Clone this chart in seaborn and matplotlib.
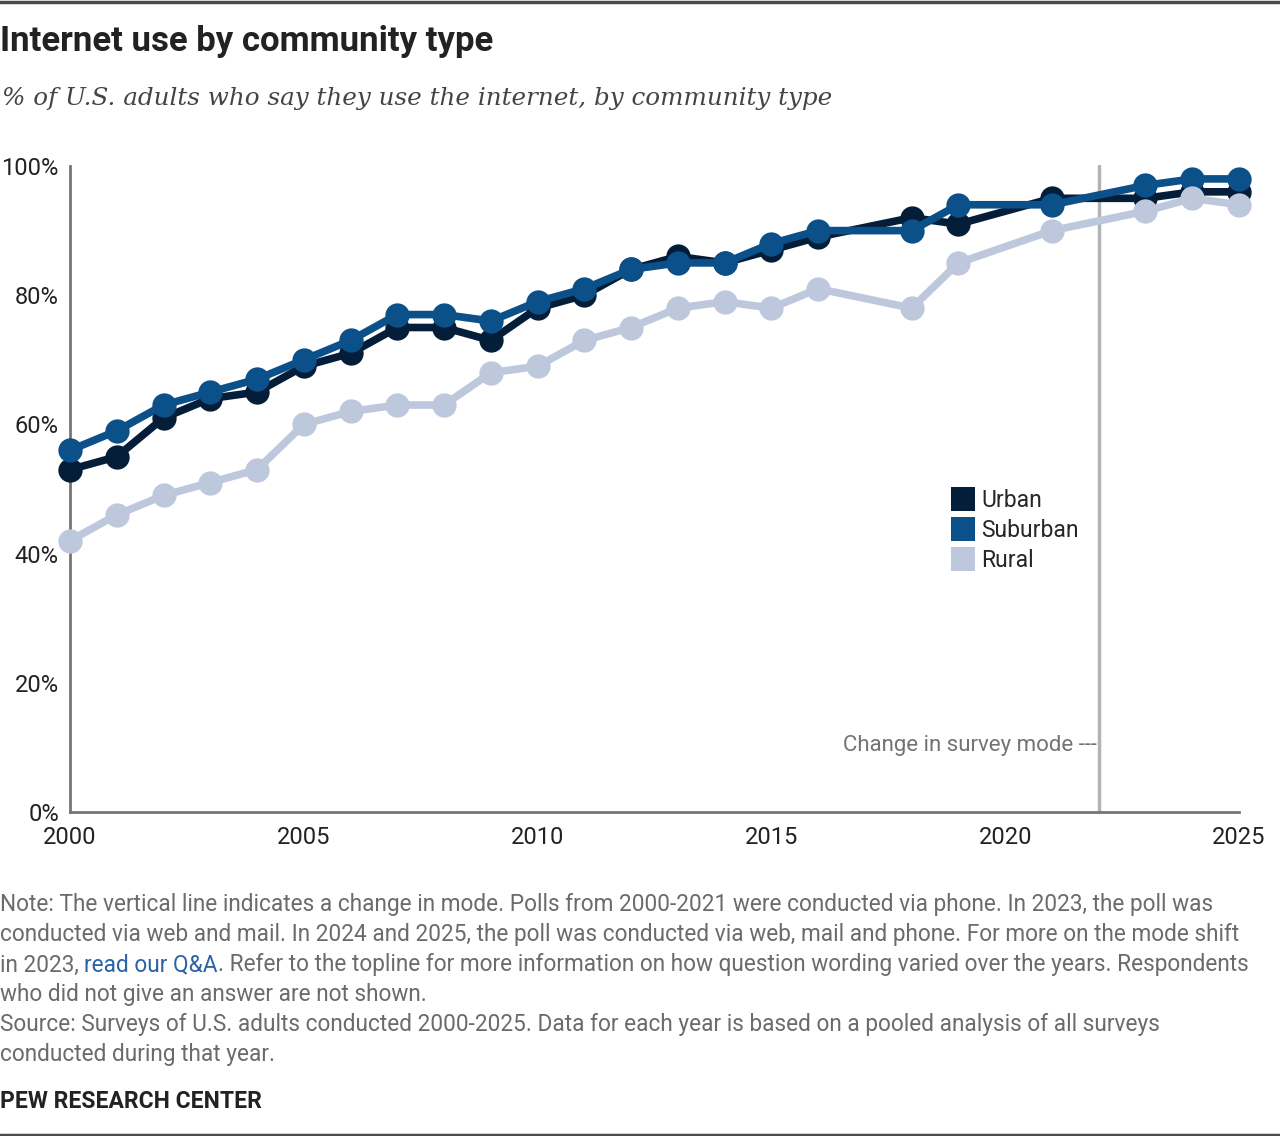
import pandas as pd
import matplotlib
matplotlib.use("Agg")
import matplotlib.pyplot as plt
from matplotlib.lines import Line2D
import seaborn as sns

years = [2000, 2001, 2002, 2003, 2004, 2005, 2006, 2007, 2008, 2009, 2010, 2011,
         2012, 2013, 2014, 2015, 2016, 2018, 2019, 2021, 2023, 2024, 2025]
urban = [53, 55, 61, 64, 65, 69, 71, 75, 75, 73, 78, 80,
         84, 86, 85, 87, 89, 92, 91, 95, 95, 96, 96]
suburban = [56, 59, 63, 65, 67, 70, 73, 77, 77, 76, 79, 81,
            84, 85, 85, 88, 90, 90, 94, 94, 97, 98, 98]
rural = [42, 46, 49, 51, 53, 60, 62, 63, 63, 68, 69, 73,
         75, 78, 79, 78, 81, 78, 85, 90, 93, 95, 94]
groups = ["Urban", "Suburban", "Rural"]
colors = ["#041e3a", "#0b5088", "#bec8dc"]
y_ticks = [0, 20, 40, 60, 80, 100]
x_ticks = [2000, 2005, 2010, 2015, 2020, 2025]
mode_change_year = 2022

df = pd.DataFrame({
    "year": years * 3,
    "pct": urban + suburban + rural,
    "group": ["Urban"] * len(years) + ["Suburban"] * len(years) + ["Rural"] * len(years),
})

sns.set_style("white")
plt.rcParams["font.family"] = ["Roboto", "DejaVu Sans"]

W, H = 1280, 1136
fig = plt.figure(figsize=(W / 100, H / 100), dpi=100)
ax = fig.add_axes([70 / W, 1 - 812 / H, (1239 - 70) / W, (812 - 166) / H])

axis_gray = "#757575"
ax.axvline(mode_change_year, color="#b3b3b3", lw=2.5, zorder=1)
ax.text(mode_change_year - 0.05, 10.3, "Change in survey mode ---", ha="right", va="center",
        fontsize=16, color="#737373")

sns.lineplot(data=df, x="year", y="pct", hue="group", hue_order=groups,
             palette=dict(zip(groups, colors)), marker="o", markersize=17.5,
             markeredgewidth=0, linewidth=5.5, legend=False, ax=ax, zorder=3)
for ln in ax.lines:
    ln.set_clip_on(False)

ax.set_xlim(2000, 2025)
ax.set_ylim(0, 100)
ax.set_xticks(x_ticks)
ax.set_yticks(y_ticks)
ax.set_yticklabels([f"{v}%" for v in y_ticks])
ax.set_xlabel("")
ax.set_ylabel("")
for s in ["top", "right"]:
    ax.spines[s].set_visible(False)
for s in ["left", "bottom"]:
    ax.spines[s].set_color(axis_gray)
    ax.spines[s].set_linewidth(2)
ax.tick_params(axis="both", length=7, width=2, color=axis_gray, labelsize=17,
               labelcolor="#222222", direction="out")
ax.tick_params(axis="x", pad=3)
ax.tick_params(axis="y", pad=1)

handles = [Line2D([], [], marker="s", linestyle="none", markersize=17,
                  markerfacecolor=c, markeredgewidth=0) for c in colors]
fig.legend(handles, groups, loc="upper left", bbox_to_anchor=(954 / W, 1 - 489 / H),
           frameon=False, fontsize=16.5, handlelength=0.8, handletextpad=0.4,
           labelspacing=0.3, borderaxespad=0, borderpad=0)

# header
fig.add_artist(Line2D([0, 1], [1 - 1.5 / H, 1 - 1.5 / H], color="#4a4a4a", lw=2.5))
fig.text(0, 1 - 41 / H, "Internet use by community type", fontsize=25, fontweight="bold",
         color="#222222", va="center", ha="left")
fig.text(2 / W, 1 - 99 / H, "% of U.S. adults who say they use the internet, by community type",
         fontsize=17.7, style="italic", color="#444444", va="center", ha="left",
         family=["DejaVu Serif"])

# notes
note_color = "#6b6b6b"
note_fs = 16.3
lines = [
    "Note: The vertical line indicates a change in mode. Polls from 2000-2021 were conducted via phone. In 2023, the poll was",
    "conducted via web and mail. In 2024 and 2025, the poll was conducted via web, mail and phone. For more on the mode shift",
    None,
    "who did not give an answer are not shown.",
    "Source: Surveys of U.S. adults conducted 2000-2025. Data for each year is based on a pooled analysis of all surveys",
    "conducted during that year.",
]
y0 = 905
for i, t in enumerate(lines):
    if t is not None:
        fig.text(0, 1 - (y0 + 30 * i) / H, t, fontsize=note_fs, color=note_color, va="center")

fig.canvas.draw()
renderer = fig.canvas.get_renderer()
yl = 1 - (y0 + 60) / H
x = 0
for piece, col in [("in 2023, ", note_color), ("read our Q&A", "#2a62a8"),
                   (". Refer to the topline for more information on how question wording varied over the years. Respondents", note_color)]:
    t = fig.text(x, yl, piece, fontsize=note_fs, color=col, va="center")
    bb = t.get_window_extent(renderer)
    x += bb.width / W

fig.text(0, 1 - 1102 / H, "PEW RESEARCH CENTER", fontsize=16.5, fontweight="bold",
         color="#222222", va="center")
fig.add_artist(Line2D([0, 1], [1.5 / H, 1.5 / H], color="#4a4a4a", lw=2.5))

fig.savefig("out.png", dpi=100)
